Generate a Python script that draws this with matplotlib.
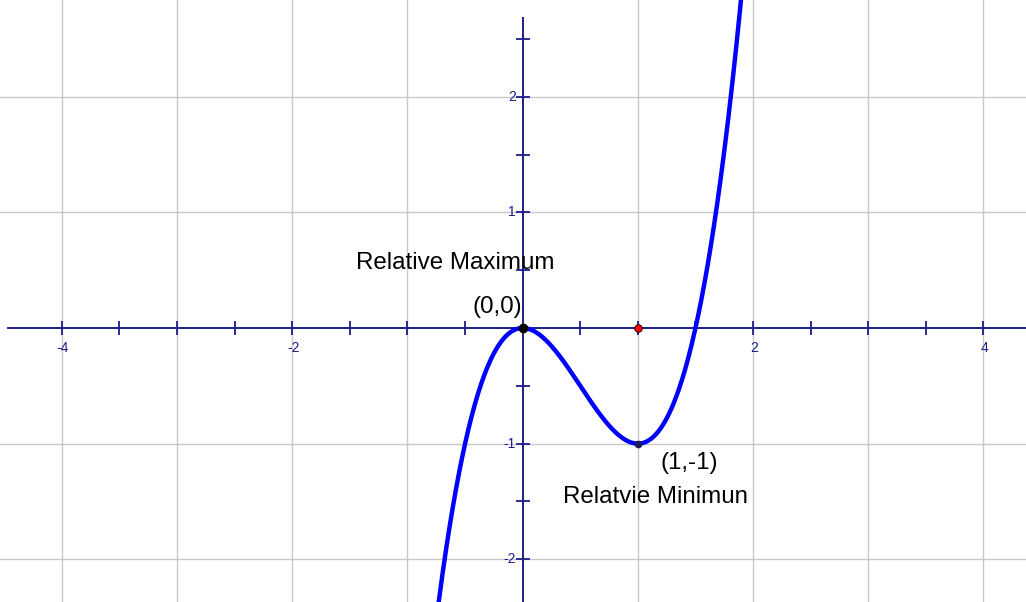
import numpy as np
import matplotlib
matplotlib.use('Agg')
import matplotlib.pyplot as plt

# curve y = 2x^3 - 3x^2
coeffs = [2, -3, 0, 0]
x_range = [-0.8, 1.95]

# axis ticks and labels
x_ticks = [-4, -3.5, -3, -2.5, -2, -1.5, -1, -0.5, 0.5, 1, 1.5, 2, 2.5, 3, 3.5, 4]
y_ticks = [-2.5, -2, -1.5, -1, -0.5, 0.5, 1, 1.5, 2, 2.5]
x_labels = [-4, -2, 2, 4]
y_labels = [-2, -1, 1, 2]
grid_x = [-4, -3, -2, -1, 1, 2, 3, 4]
grid_y = [-2, -1, 1, 2]

# marked points
max_pt = (0, 0)
min_pt = (1, -1)
root_pt = (1, 0)

navy = '#1c1c8a'
plt.rcParams['font.family'] = ['Liberation Sans', 'DejaVu Sans']

fig = plt.figure(figsize=(10.26, 6.02), dpi=100)
ax = fig.add_axes([0, 0, 1, 1])
ax.set_xlim(-4.537, 4.369)
ax.set_ylim(-2.369, 2.836)
ax.axis('off')

for g in grid_x:
    ax.axvline(g, color='#c8c8c8', lw=1.0, zorder=0)
for g in grid_y:
    ax.axhline(g, color='#c8c8c8', lw=1.0, zorder=0)

# axes
ax.plot([-4.47, 4.369], [0, 0], color=navy, lw=1.4, zorder=2)
ax.plot([0, 0], [-2.369, 2.68], color=navy, lw=1.4, zorder=2)
ax.plot(x_ticks, np.zeros(len(x_ticks)), '|', color=navy, ms=9.5, mew=1.3, zorder=2)
ax.plot(np.zeros(len(y_ticks)), y_ticks, '_', color=navy, ms=9.5, mew=1.3, zorder=2)

for v in x_labels:
    ax.annotate(str(v), (v, 0), xytext=(1, -20), textcoords='offset pixels',
                ha='center', va='center', fontsize=10, color=navy)
for v in y_labels:
    ax.annotate(str(v), (0, v), xytext=(-7, 0), textcoords='offset pixels',
                ha='right', va='center', fontsize=10, color=navy)

xs = np.linspace(x_range[0], x_range[1], 400)
ax.plot(xs, np.polyval(coeffs, xs), color='#0000ff', lw=3.2, zorder=3)

ax.plot(*max_pt, 'o', color='black', ms=6, zorder=4)
ax.plot(*root_pt, 'o', color='red', mec='black', mew=0.6, ms=5.5, zorder=4)
ax.plot(*min_pt, 'o', color='#1c1c5a', ms=4.5, zorder=4)

ax.text(-0.588, 0.56, 'Relative Maximum', ha='center', va='center', fontsize=17.4)
ax.text(-0.223, 0.18, '(0,0)', ha='center', va='center', fontsize=17.4)
ax.text(1.444, -1.167, '(1,-1)', ha='center', va='center', fontsize=17.4)
ax.text(1.149, -1.461, 'Relatvie Minimun', ha='center', va='center', fontsize=17.4)

fig.savefig('out.png', dpi=100)
